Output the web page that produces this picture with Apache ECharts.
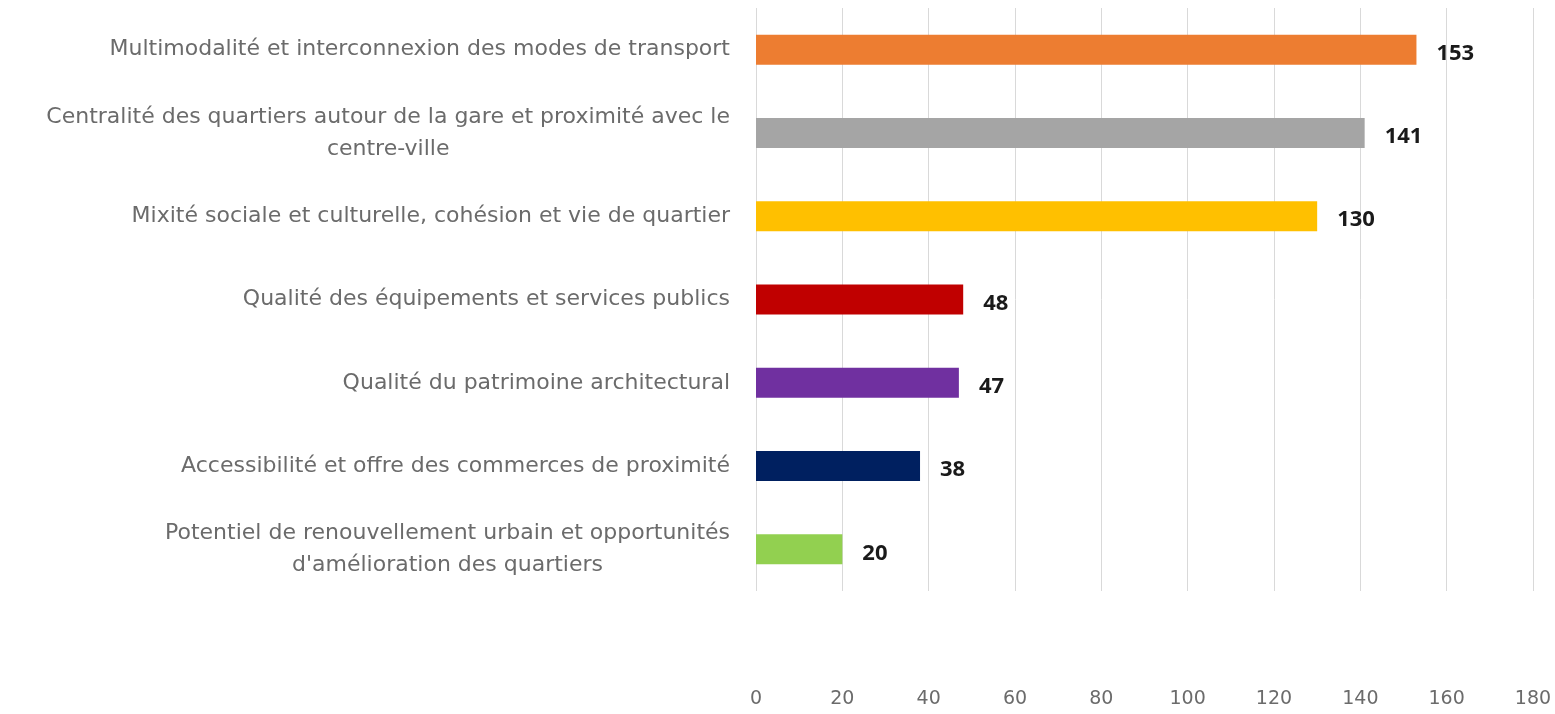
<!DOCTYPE html>
<html>
<head>
<meta charset="utf-8">
<script src="https://cdn.jsdelivr.net/npm/echarts@6/dist/echarts.min.js"></script>
<style>
  html, body { margin: 0; padding: 0; background: #fff; }
  #chart { width: 1555px; height: 714px; }
</style>
</head>
<body>
<div id="chart"></div>
<script>
// chart data
var categories = [
  'Multimodalité et interconnexion des modes de transport',
  'Centralité des quartiers autour de la gare et proximité avec le\ncentre-ville',
  'Mixité sociale et culturelle, cohésion et vie de quartier',
  'Qualité des équipements et services publics',
  'Qualité du patrimoine architectural',
  'Accessibilité et offre des commerces de proximité',
  'Potentiel de renouvellement urbain et opportunités\nd\'amélioration des quartiers'
]
var values = [153, 141, 130, 48, 47, 38, 20]
var barColors = ['#ED7D31', '#A5A5A5', '#FFC000', '#C00000', '#7030A0', '#002060', '#92D050']
var xTicks = [0, 20, 40, 60, 80, 100, 120, 140, 160, 180]

var labelFont = '"DejaVu Sans", Verdana, sans-serif'

var chart = echarts.init(document.getElementById('chart'))
chart.setOption({
  animation: false,
  grid: {
    left: 756,
    right: 22,
    top: 8,
    height: 583
  },
  xAxis: {
    type: 'value',
    min: xTicks[0],
    max: xTicks[xTicks.length - 1],
    interval: 20,
    axisLine: { show: false },
    axisTick: { show: false },
    axisLabel: {
      margin: 99,
      color: '#6b6b6b',
      fontSize: 19,
      fontFamily: labelFont
    },
    splitLine: {
      lineStyle: { color: '#D9D9D9', width: 1 }
    }
  },
  yAxis: {
    type: 'category',
    inverse: true,
    data: categories,
    axisLine: { show: false },
    axisTick: { show: false },
    axisLabel: {
      margin: 26,
      color: '#6b6b6b',
      fontSize: 22,
      fontFamily: labelFont,
      lineHeight: 32,
      formatter: function (val) {
        return val.split('\n').map(function (s) { return '{c|' + s + '}' }).join('\n')
      },
      rich: {
        c: {
          align: 'center',
          color: '#6b6b6b',
          fontSize: 22,
          fontFamily: labelFont,
          lineHeight: 32
        }
      }
    }
  },
  series: [{
    type: 'bar',
    barWidth: 30,
    data: values.map(function (v, i) {
      return { value: v, itemStyle: { color: barColors[i] } }
    }),
    label: {
      show: true,
      position: 'right',
      distance: 20,
      offset: [0, 4],
      color: '#1a1a1a',
      fontSize: 22,
      fontWeight: 'bold',
      fontFamily: '"Open Sans", sans-serif'
    }
  }]
})
</script>
</body>
</html>
